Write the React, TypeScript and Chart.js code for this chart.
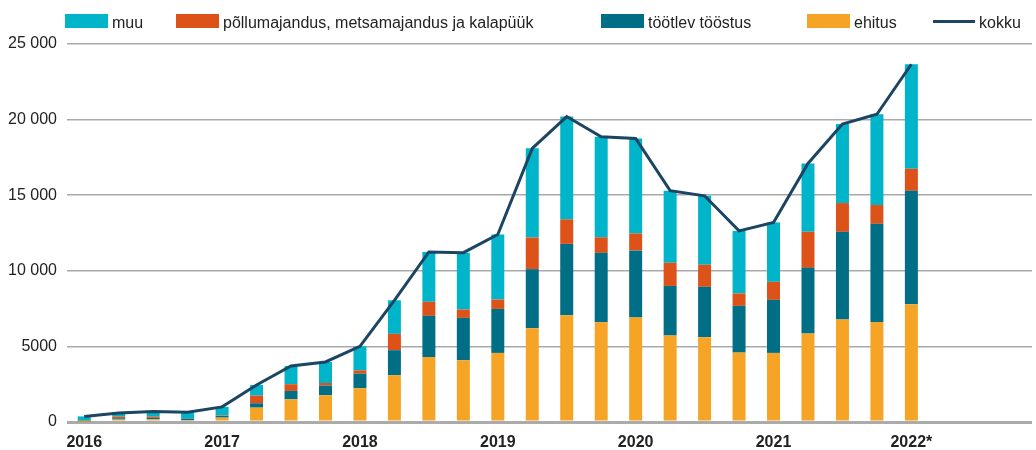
import React, { useEffect, useRef } from "react";
import { Chart, registerables } from "chart.js";

Chart.register(...registerables);

// Quarterly categories 2016 Q1 .. 2022 Q4, labelled at each first quarter
const tickLabels = [
  "2016", "", "", "",
  "2017", "", "", "",
  "2018", "", "", "",
  "2019", "", "", "",
  "2020", "", "", "",
  "2021", "", "", "",
  "2022*", "", "", "",
];

const ehitus = [20, 160, 180, 110, 290, 950, 1500, 1770, 2230, 3090, 4300, 4085, 4570, 6200, 7060, 6600, 6910, 5720, 5610, 4590, 4570, 5850, 6780, 6620, 7790];
const tootlev = [40, 85, 110, 115, 110, 290, 555, 640, 970, 1660, 2720, 2800, 2910, 3910, 4720, 4590, 4440, 3280, 3330, 3090, 3510, 4345, 5800, 6490, 7500];
const pollu = [10, 110, 85, 35, 30, 510, 445, 170, 220, 1080, 930, 555, 620, 2090, 1620, 1020, 1120, 1530, 1460, 820, 1190, 2385, 1900, 1240, 1460];
const muu = [300, 245, 315, 390, 570, 700, 1200, 1390, 1580, 2220, 3300, 3760, 4300, 5900, 6800, 6660, 6280, 4770, 4560, 4140, 3930, 4520, 5230, 6000, 6910];
const kokku = [370, 600, 690, 650, 1000, 2450, 3700, 3970, 5000, 8050, 11250, 11200, 12400, 18100, 20200, 18870, 18750, 15300, 14960, 12640, 13200, 17100, 19710, 20350, 23660];

const yTickValues = [0, 5000, 10000, 15000, 20000, 25000];

const C_MUU = "#00b4ca";
const C_POLLU = "#dc5219";
const C_TOOT = "#006e85";
const C_EHIT = "#f5a425";
const C_KOKKU = "#1b4563";

const FONT = "'Liberation Sans', Arial, Helvetica, sans-serif";

function fmt(v: number): string {
  if (v >= 10000) {
    const s = String(v);
    return s.slice(0, s.length - 3) + " " + s.slice(s.length - 3);
  }
  return String(v);
}

const legendItems = [
  { label: "muu", color: C_MUU, left: 65, line: false },
  { label: "põllumajandus, metsamajandus ja kalapüük", color: C_POLLU, left: 176, line: false },
  { label: "töötlev tööstus", color: C_TOOT, left: 601, line: false },
  { label: "ehitus", color: C_EHIT, left: 807, line: false },
  { label: "kokku", color: C_KOKKU, left: 933, line: true },
];

export default function App() {
  const ref = useRef<HTMLCanvasElement>(null);

  useEffect(() => {
    if (!ref.current) return;
    Chart.defaults.font.family = FONT;
    const chart = new Chart(ref.current, {
      type: "bar",
      data: {
        labels: tickLabels,
        datasets: [
          { label: "ehitus", data: ehitus, backgroundColor: C_EHIT, stack: "s", order: 1 },
          { label: "töötlev tööstus", data: tootlev, backgroundColor: C_TOOT, stack: "s", order: 1 },
          { label: "põllumajandus, metsamajandus ja kalapüük", data: pollu, backgroundColor: C_POLLU, stack: "s", order: 1 },
          { label: "muu", data: muu, backgroundColor: C_MUU, stack: "s", order: 1 },
          {
            type: "line",
            label: "kokku",
            data: kokku,
            borderColor: C_KOKKU,
            backgroundColor: C_KOKKU,
            borderWidth: 3,
            pointRadius: 0,
            tension: 0,
            stack: "k",
            order: 0,
          } as any,
        ],
      },
      options: {
        animation: false,
        responsive: false,
        devicePixelRatio: 1,
        layout: { padding: { left: 8, right: 4, top: 44, bottom: 0 } },
        datasets: { bar: { barPercentage: 0.377, categoryPercentage: 1 } },
        plugins: { legend: { display: false }, tooltip: { enabled: false } },
        scales: {
          x: {
            stacked: true,
            grid: { display: false, drawTicks: false },
            border: { display: false },
            afterFit: (scale: any) => {
              scale.height = 28;
            },
            ticks: {
              autoSkip: false,
              maxRotation: 0,
              padding: 11,
              color: "#222",
              font: { size: 16, weight: "bold" },
            },
          },
          y: {
            stacked: true,
            min: yTickValues[0],
            max: yTickValues[yTickValues.length - 1],
            afterBuildTicks: (scale: any) => {
              scale.ticks = yTickValues.map((v) => ({ value: v }));
            },
            afterFit: (scale: any) => {
              scale.width = 59;
            },
            ticks: {
              padding: 10,
              color: "#222",
              font: { size: 16 },
              callback: (v: any) => fmt(Number(v)),
            },
            grid: {
              drawTicks: false,
              color: (ctx: any) => (ctx.tick && ctx.tick.value === 0 ? "#ababab" : "#a9a9a9"),
              lineWidth: (ctx: any) => (ctx.tick && ctx.tick.value === 0 ? 3 : 1.5),
            },
            border: { display: false },
          },
        },
      } as any,
    });
    return () => chart.destroy();
  }, []);

  return (
    <div
      style={{
        position: "absolute",
        left: 0,
        top: 0,
        width: 1036,
        height: 450,
        background: "#fff",
        fontFamily: FONT,
      }}
    >
      <canvas ref={ref} width={1036} height={450} style={{ display: "block", width: 1036, height: 450 }} />
      {legendItems.map((it) => (
        <div key={it.label}>
          <div
            style={{
              position: "absolute",
              left: it.left,
              top: it.line ? 20 : 14,
              width: it.line ? 42 : 43,
              height: it.line ? 3 : 14,
              background: it.color,
            }}
          />
          <div
            style={{
              position: "absolute",
              left: it.left + (it.line ? 46 : 47),
              top: 14,
              fontSize: 16,
              lineHeight: "18px",
              color: "#222",
              whiteSpace: "nowrap",
            }}
          >
            {it.label}
          </div>
        </div>
      ))}
    </div>
  );
}
